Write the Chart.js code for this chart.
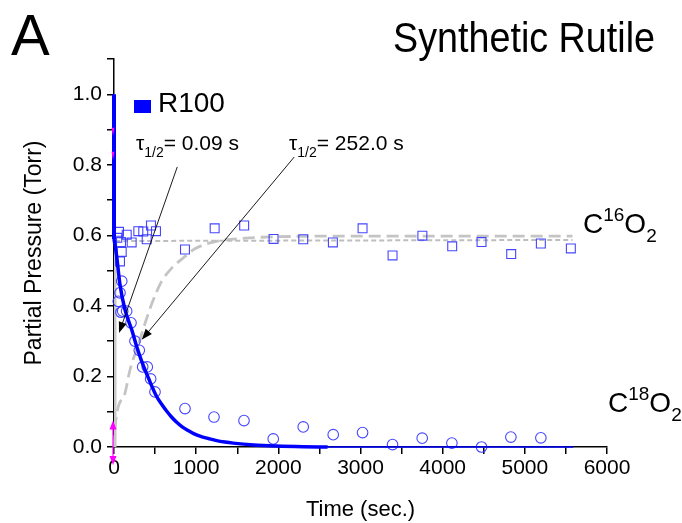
<!DOCTYPE html>
<html>
<head>
<meta charset="utf-8">
<script src="https://cdn.jsdelivr.net/npm/chart.js@4.4.1/dist/chart.umd.min.js"></script>
<style>
  html, body { margin: 0; padding: 0; background: #fff; }
</style>
</head>
<body>
<canvas id="myChart" width="682" height="523"></canvas>
<script>
'use strict';

// C16O2 partial pressure (open squares)
const c16Time = [40, 61, 73, 85, 94, 155, 215, 296, 356, 398, 450, 511, 864, 1225, 1584, 1942,
    2303, 2664, 3025, 3390, 3753, 4116, 4473, 4834, 5195, 5560];
const c16Pressure = [0.593, 0.610, 0.526, 0.581, 0.553, 0.602, 0.580, 0.612, 0.611, 0.589, 0.628, 0.612,
    0.560, 0.620, 0.628, 0.590, 0.589, 0.580, 0.620, 0.543, 0.599, 0.569, 0.581, 0.547, 0.577, 0.563];

// C18O2 partial pressure (open circles)
const c18Time = [52, 73, 85, 94, 106, 154, 207, 255, 308, 349, 405, 446, 499, 864, 1217, 1582, 1938,
    2303, 2668, 3025, 3390, 3751, 4112, 4473, 4830, 5195];
const c18Pressure = [0.413, 0.437, 0.382, 0.470, 0.385, 0.385, 0.352, 0.300, 0.274, 0.227, 0.227, 0.193,
    0.156, 0.109, 0.085, 0.075, 0.023, 0.057, 0.035, 0.041, 0.007, 0.025, 0.011, 0.000, 0.028, 0.026];

// R100 fitted decay (blue)
const spikeTime = [0, 0];
const spikePressure = [1.0, 0.59];
const fitTime = [0, 30, 73, 134, 215, 276, 337, 418, 519, 580, 640, 700, 763, 830, 900, 970, 1046, 1150,
    1250, 1350, 1451, 1700, 1979, 2300, 2600];
const fitPressure = [0.59, 0.545, 0.46, 0.389, 0.333, 0.285, 0.243, 0.196, 0.143, 0.121, 0.102, 0.085,
    0.070, 0.057, 0.047, 0.038, 0.031, 0.024, 0.018, 0.014, 0.011, 0.006, 0.003, 0.001, 0.0];
const tailTime = [2600, 5590];
const tailPressure = [0.0, 0.0];

// fast (0.09 s) and slow (252 s) rise components (grey)
const jumpTime = [15, 15];
const jumpPressure = [0.0, 0.584];
const fastTime = [15, 5580];
const fastPressure = [0.584, 0.587];
const slowTime = [0, 25, 134, 195, 296, 377, 458, 519, 580, 702, 843, 985, 1208, 1600, 2200, 3000, 5580];
const slowPressure = [0.0, 0.08, 0.153, 0.219, 0.29, 0.35, 0.405, 0.44, 0.47, 0.507, 0.536, 0.562,
    0.581, 0.592, 0.597, 0.598, 0.598];

// axis ranges and labels
const xRange = [0, 6000];
const yRange = [0, 1.1];
const xTitle = 'Time (sec.)';
const yTitle = 'Partial Pressure (Torr)';

function toPoints(xs, ys) {
    return xs.map((x, i) => ({ x: x, y: ys[i] }));
}

const FONT = '"Liberation Sans", Arial, sans-serif';
const NARROW = '"Liberation Sans Narrow", "Liberation Sans", Arial, sans-serif';

// draw a row of text pieces (sub/superscripts) starting at x
function drawRuns(ctx, x, baseline, runs) {
    runs.forEach(r => {
        ctx.font = r.size + 'px ' + (r.family || FONT);
        ctx.fillText(r.text, x, baseline + (r.dy || 0));
        x += ctx.measureText(r.text).width;
    });
}

function drawArrow(ctx, x1, y1, x2, y2) {
    const ang = Math.atan2(y2 - y1, x2 - x1);
    const len = 11, half = 4;
    ctx.beginPath();
    ctx.moveTo(x1, y1);
    ctx.lineTo(x2 - Math.cos(ang) * len * 0.8, y2 - Math.sin(ang) * len * 0.8);
    ctx.stroke();
    ctx.beginPath();
    ctx.moveTo(x2, y2);
    ctx.lineTo(x2 - Math.cos(ang) * len + Math.sin(ang) * half, y2 - Math.sin(ang) * len - Math.cos(ang) * half);
    ctx.lineTo(x2 - Math.cos(ang) * len - Math.sin(ang) * half, y2 - Math.sin(ang) * len + Math.cos(ang) * half);
    ctx.closePath();
    ctx.fill();
}

const overlay = {
    id: 'overlay',
    afterDraw(chart) {
        const ctx = chart.ctx;
        const xs = chart.scales.x, ys = chart.scales.y;
        ctx.save();
        ctx.fillStyle = '#000';
        ctx.textBaseline = 'alphabetic';

        // panel letter and title
        ctx.font = '58px ' + NARROW;
        ctx.fillText('A', 11, 55);
        ctx.font = '42px ' + NARROW;
        const w = ctx.measureText('Synthetic Rutile').width;
        ctx.save();
        ctx.translate(393, 52);
        ctx.scale(262 / w, 1);
        ctx.fillText('Synthetic Rutile', 0, 0);
        ctx.restore();

        // legend entry
        ctx.fillStyle = '#0000ff';
        ctx.fillRect(134, 100, 17, 13);
        ctx.fillStyle = '#000';
        ctx.font = '28px ' + FONT;
        ctx.fillText('R100', 158, 112);

        // half-life labels
        drawRuns(ctx, 136, 150, [
            { text: 'τ', size: 21 }, { text: '1/2', size: 14, dy: 7 }, { text: '= 0.09 s', size: 21 }]);
        drawRuns(ctx, 289, 150, [
            { text: 'τ', size: 21 }, { text: '1/2', size: 14, dy: 7 }, { text: '= 252.0 s', size: 21 }]);

        // species labels
        drawRuns(ctx, 583, 233, [
            { text: 'C', size: 28 }, { text: '16', size: 19, dy: -12 },
            { text: 'O', size: 28 }, { text: '2', size: 19, dy: 9 }]);
        drawRuns(ctx, 608, 412, [
            { text: 'C', size: 28 }, { text: '18', size: 19, dy: -12 },
            { text: 'O', size: 28 }, { text: '2', size: 19, dy: 9 }]);

        // pointers from the labels to the curves
        ctx.strokeStyle = '#000';
        ctx.lineWidth = 0.9;
        drawArrow(ctx, xs.getPixelForValue(770), ys.getPixelForValue(0.794),
            xs.getPixelForValue(61), ys.getPixelForValue(0.323));
        drawArrow(ctx, xs.getPixelForValue(2193), ys.getPixelForValue(0.822),
            xs.getPixelForValue(337), ys.getPixelForValue(0.304));

        // magenta markers at the start of the run
        const x0 = xs.getPixelForValue(0) - 1;
        ctx.strokeStyle = '#ff00ff';
        ctx.fillStyle = '#ff00ff';
        ctx.lineWidth = 1.2;
        const yTop = ys.getPixelForValue(0.075);
        const yBot = ys.bottom + 18;
        ctx.beginPath();
        ctx.moveTo(x0, yTop + 5);
        ctx.lineTo(x0, yBot - 5);
        ctx.stroke();
        [[yTop, 1], [yBot, -1]].forEach(([yy, d]) => {
            ctx.beginPath();
            ctx.moveTo(x0, yy);
            ctx.lineTo(x0 - 3.5, yy + d * 9);
            ctx.lineTo(x0 + 3.5, yy + d * 9);
            ctx.closePath();
            ctx.fill();
        });
        [0.894, 0.826].forEach(v => {
            const yy = ys.getPixelForValue(v);
            ctx.beginPath();
            ctx.moveTo(x0 - 1.5, yy - 4);
            ctx.lineTo(x0 + 1.5, yy - 4);
            ctx.lineTo(x0, yy + 4);
            ctx.closePath();
            ctx.fill();
        });
        ctx.restore();
    }
};

// outward tick marks only, no grid inside the plot
function axisGrid() {
    return {
        display: true, drawOnChartArea: false, drawTicks: true, tickLength: 7,
        color: '#000', lineWidth: 1.5, tickColor: '#000', tickWidth: 1.5
    };
}

function createChart() {
    const ctx = document.getElementById('myChart').getContext('2d');
    const grey = 'rgb(190, 190, 190)';
    const blue = '#0000ff';
    const markerBlue = 'rgba(50, 50, 255, 0.9)';

    new Chart(ctx, {
        type: 'line',
        data: {
            datasets: [
                {
                    label: 'R100 fit', data: toPoints(fitTime, fitPressure), order: 0,
                    borderColor: blue, borderWidth: 3.5, pointRadius: 0,
                    cubicInterpolationMode: 'monotone', clip: 4
                },
                {
                    label: 'R100 spike', data: toPoints(spikeTime, spikePressure), order: 0,
                    borderColor: blue, borderWidth: 4, pointRadius: 0, clip: 4
                },
                {
                    label: 'R100 tail', data: toPoints(tailTime, tailPressure), order: 0,
                    borderColor: blue, borderWidth: 1.6, pointRadius: 0, clip: 4
                },
                {
                    label: 'C18O2', data: toPoints(c18Time, c18Pressure), order: 1,
                    showLine: false, pointStyle: 'circle', pointRadius: 5.3,
                    borderColor: markerBlue, borderWidth: 1.1, backgroundColor: 'transparent',
                    clip: false
                },
                {
                    label: 'C16O2', data: toPoints(c16Time, c16Pressure), order: 2,
                    showLine: false, pointStyle: 'rect', pointRadius: 6.3,
                    borderColor: markerBlue, borderWidth: 1.1, backgroundColor: 'transparent'
                },
                {
                    label: 'fast jump', data: toPoints(jumpTime, jumpPressure), order: 3,
                    borderColor: 'rgb(200, 200, 200)', borderWidth: 2.5, pointRadius: 0, clip: 4
                },
                {
                    label: 'fast rise', data: toPoints(fastTime, fastPressure), order: 3,
                    borderColor: grey, borderWidth: 2, borderDash: [5, 3], pointRadius: 0, clip: 4
                },
                {
                    label: 'slow rise', data: toPoints(slowTime, slowPressure), order: 4,
                    borderColor: 'rgb(196, 196, 196)', borderWidth: 2.8, borderDash: [12, 6], pointRadius: 0,
                    cubicInterpolationMode: 'monotone', clip: 4
                }
            ]
        },
        options: {
            responsive: false,
            animation: false,
            layout: { padding: { left: 0, right: 75, top: 59, bottom: 0 } },
            plugins: { legend: { display: false }, tooltip: { enabled: false } },
            scales: {
                x: {
                    type: 'linear', min: xRange[0], max: xRange[1],
                    afterFit: (scale) => { scale.height = 76; },
                    ticks: {
                        stepSize: 500, autoSkip: false, maxRotation: 0, color: '#000', padding: 2,
                        font: { size: 21, family: FONT },
                        callback: (v) => (v % 1000 === 0 ? String(v) : '')
                    },
                    grid: axisGrid(),
                    border: { display: true, color: '#000', width: 1.5 },
                    title: {
                        display: true, text: xTitle, color: '#000',
                        font: { size: 22, family: FONT }, padding: { top: 4, bottom: 0 }
                    }
                },
                y: {
                    type: 'linear', min: yRange[0], max: yRange[1],
                    afterFit: (scale) => { scale.width = 114; },
                    ticks: {
                        stepSize: 0.1, includeBounds: false, autoSkip: false, color: '#000', padding: 5,
                        font: { size: 21, family: FONT },
                        callback: (v) => (Math.round(v * 10) % 2 === 0 ? v.toFixed(1) : '')
                    },
                    grid: axisGrid(),
                    border: { display: true, color: '#000', width: 1.5 },
                    title: {
                        display: true, text: yTitle, color: '#000',
                        font: { size: 23, family: FONT }, padding: { top: 21, bottom: 0 }
                    }
                }
            }
        },
        plugins: [overlay]
    });
}

window.onload = createChart;
</script>
</body>
</html>
